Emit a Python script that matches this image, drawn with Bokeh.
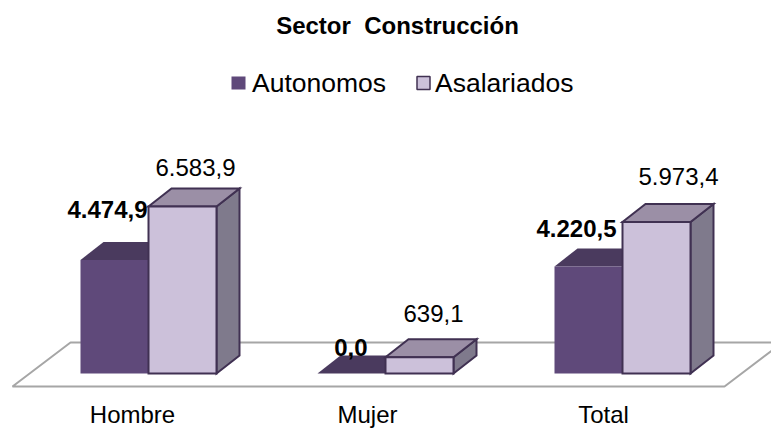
from bokeh.plotting import figure
from bokeh.models import Range1d
from bokeh.embed import file_html
from bokeh.resources import INLINE
from bokeh.core.properties import value

title = "Sector \u00a0Construcción"
categories = ["Hombre", "Mujer", "Total"]
autonomos = [4474.9, 0.0, 4220.5]
asalariados = [6583.9, 639.1, 5973.4]
series_names = ["Autonomos", "Asalariados"]

FONT = value("Liberation Sans")
W, H = 771, 428
ORIGIN = 0
PX_PER_CAT = 237.0
PX_PER_VAL = 167.0 / 6583.9
X0_PAGE, Y0_PAGE = 148.0, 373.0  # page position of the first group, value 0
BAR = 68.0 / PX_PER_CAT
DX = 23.0 / PX_PER_CAT
DY = 18.0 / PX_PER_VAL

def px(x):
    return (x - X0_PAGE) / PX_PER_CAT

def py(y):
    return (Y0_PAGE - y) / PX_PER_VAL

p = figure(width=W, height=H, output_backend="svg", toolbar_location=None,
           x_range=Range1d(px(ORIGIN), px(ORIGIN + W)), y_range=Range1d(py(ORIGIN + H), py(ORIGIN)),
           min_border=0, outline_line_color=None)
p.xaxis.visible = False
p.yaxis.visible = False
p.grid.visible = False

# floor
p.line([px(782), px(724), px(12), px(70), px(771)],
       [py(342), py(386), py(386), py(342), py(342)],
       line_color="#A6A6A6", line_width=2)

def bar3d(v, left, front, top, side, outline):
    x0, x1 = left, left + BAR
    kw = dict(line_color=outline, line_width=2 if outline else 0, line_join="miter")
    p.patch([x1, x1 + DX, x1 + DX, x1], [0, DY, v + DY, v], fill_color=side, **kw)
    p.patch([x0, x1, x1 + DX, x0 + DX], [v, v, v + DY, v + DY], fill_color=top, **kw)
    if v > 0:
        p.patch([x0, x1, x1, x0], [0, 0, v, v], fill_color=front, **kw)

for i, v in enumerate(autonomos):
    bar3d(v, i - BAR, "#5F497A", "#4A3A5E", "#4A3A5E", None)
for i, v in enumerate(asalariados):
    bar3d(v, i, "#CCC1DA", "#9B8FA6", "#7F7A8C", "#403152")

def txt(x, y, s, size, bold=False, align="center"):
    p.text([x], [y], text=[s], text_font=FONT, text_font_size=f"{size}px",
           text_font_style="bold" if bold else "normal", text_color="#000000",
           text_align=align, text_baseline="middle")

def es(v):
    s = f"{v:,.1f}"
    return s.replace(",", "#").replace(".", ",").replace("#", ".")

# value labels
for i, (rx, ly) in enumerate([(147, 209), (367, 347), (616, 228)]):
    txt(px(rx), py(ly), es(autonomos[i]), 24, bold=True, align="right")
for i, cx in enumerate([195, 433, 678]):
    txt(px(cx), py([167, 313, 176][i]), es(asalariados[i]), 24)

# category labels
for i, c in enumerate(categories):
    txt(px([132, 367, 603][i]), py(414), c, 24)

# title and legend
txt(px(397), py(25), title, 24, bold=True)
p.quad(left=[px(231)], right=[px(245)], bottom=[py(89)], top=[py(76)],
       fill_color="#5F497A", line_color=None)
p.quad(left=[px(416.5)], right=[px(429.5)], bottom=[py(89)], top=[py(76)],
       fill_color="#CCC1DA", line_color="#403152", line_width=1.5)
txt(px(251.5), py(82), series_names[0], 26.5, align="left")
txt(px(434.5), py(82), series_names[1], 26.5, align="left")

open("out.html", "w").write(file_html(p, INLINE))
